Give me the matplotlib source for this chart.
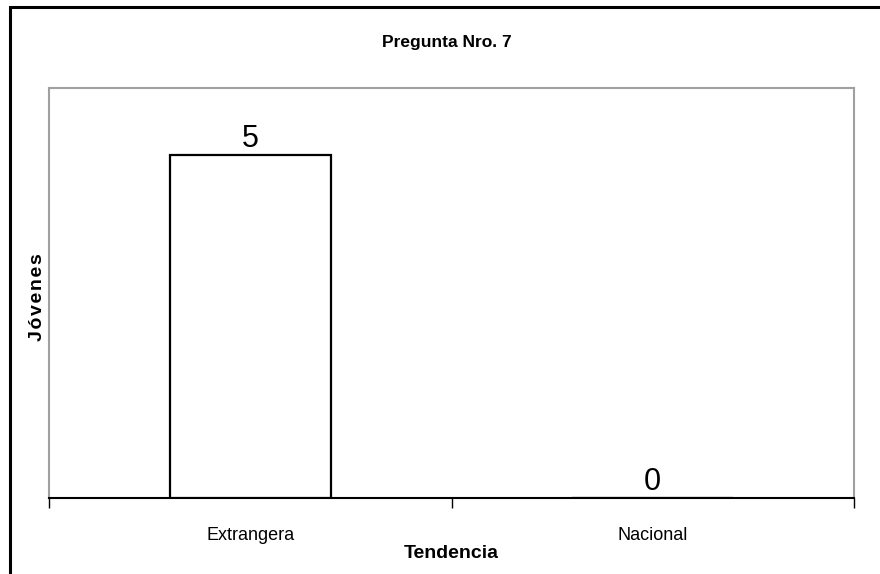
import matplotlib
matplotlib.use("Agg")
import matplotlib.pyplot as plt
from matplotlib.patches import Rectangle

# data
categories = ["Extrangera", "Nacional"]
values = [5, 0]
title = "Pregunta Nro. 7"
xlabel = "Tendencia"
ylabel = "Jóvenes"

plt.rcParams["font.family"] = ["Liberation Sans", "DejaVu Sans"]

fig = plt.figure(figsize=(8.8, 5.74), dpi=100)
# outer chart frame
fig.patches.append(Rectangle((10 / 880, -0.05), 1.0, 1.0 - 7 / 574 + 0.05,
                             transform=fig.transFigure, fill=False,
                             edgecolor="black", linewidth=2.2))

ax = fig.add_axes([49 / 880, 76 / 574, 805 / 880, 410 / 574])
x = list(range(len(categories)))
ax.bar(x, values, width=0.4, color="white", edgecolor="black", linewidth=1.6, zorder=3)
for xi, v in zip(x, values):
    ax.text(xi, v + 0.02, str(v), ha="center", va="bottom", fontsize=22)

ax.set_xlim(-0.5, 1.5)
ax.set_ylim(0, 5.98)
ax.set_xticks([-0.5, 0.5, 1.5])
ax.set_xticklabels([])
ax.set_xticks(x, minor=True)
ax.set_xticklabels(categories, minor=True, fontsize=13)
ax.tick_params(axis="x", which="major", length=7, width=1, color="black", direction="out")
ax.tick_params(axis="x", which="minor", length=0, pad=21)
ax.set_yticks([])

for s in ["left", "top", "right"]:
    ax.spines[s].set_color("#a0a0a0")
    ax.spines[s].set_linewidth(1.5)
ax.spines["bottom"].set_color("black")
ax.spines["bottom"].set_linewidth(1.5)

ax.set_xlabel(xlabel, fontsize=14, fontweight="bold")
ax.xaxis.set_label_coords(0.5, -0.115)
# letter-spaced y label like the original
ax.set_ylabel("\u200a".join(ylabel), fontsize=14, fontweight="bold")
ax.yaxis.set_label_coords(-0.004, 0.49)
fig.text(447 / 880, 1 - 43 / 574, title, ha="center", va="center",
         fontsize=12.5, fontweight="bold")

fig.savefig("out.png", dpi=100)
